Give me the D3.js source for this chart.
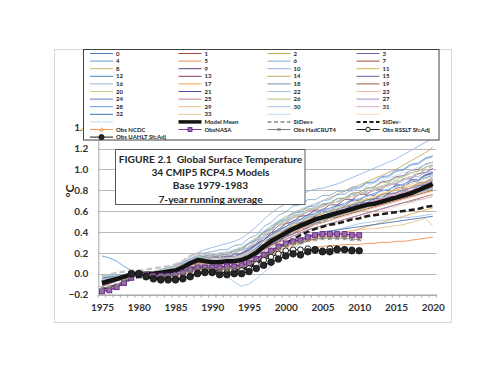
<!DOCTYPE html>
<html>
<head>
<meta charset="utf-8">
<style>
    html, body {
        margin: 0;
        padding: 0;
        background: #fff;
    }
    svg {
        display: block;
        font-family: Lato, "Open Sans", sans-serif;
    }
</style>
</head>
<body>
<svg id="chart" width="499" height="386"></svg>
<script src="https://cdn.jsdelivr.net/npm/d3@7/dist/d3.min.js"></script>
<script>
"use strict";

// categories
const years = [1975, 1976, 1977, 1978, 1979, 1980, 1981, 1982, 1983, 1984, 1985, 1986, 1987, 1988, 1989,
    1990, 1991, 1992, 1993, 1994, 1995, 1996, 1997, 1998, 1999, 2000, 2001, 2002, 2003, 2004,
    2005, 2006, 2007, 2008, 2009, 2010, 2011, 2012, 2013, 2014, 2015, 2016, 2017, 2018, 2019, 2020];
const xTicks = [1975, 1980, 1985, 1990, 1995, 2000, 2005, 2010, 2015, 2020];
const yTicks = [-0.2, 0, 0.2, 0.4, 0.6, 0.8, 1.0, 1.2, 1.4];

// model runs, hundredths of a degree, 1975..2020
const modelNames = ["0", "1", "2", "3", "4", "5", "6", "7", "8", "9", "10", "11", "12", "13", "14", "15", "16",
    "17", "18", "19", "20", "21", "22", "23", "24", "25", "26", "27", "28", "29", "30", "31", "32", "33", "", "", ""];
const modelColors = ["#4f7fbf", "#a5473a", "#b8a954", "#6f5f9f", "#5b9bd5", "#ed8a45", "#7fa7c9", "#9e5030",
    "#c9b46b", "#5a3d8a", "#8fb4e3", "#e0b040", "#4a7ebb", "#8b3a62", "#b9b060", "#7b5ea7", "#94b3d6",
    "#f0a850", "#6e8fb0", "#a0603d", "#c5c88a", "#4b4bb0", "#9dc3e6", "#f0b8a0", "#5f7fbf", "#c08081",
    "#a9c47f", "#a28cc8", "#6495ed", "#e6c08a", "#a8c0e0", "#d9a8c0", "#3c6eb4", "#e0cc95",
    "#bdd7ee", "#fbd5bd", "#c5d9f1"];
const modelValues = [
    [-8, -6, -5, -3, -1, 0, 1, 0, 1, 2, 4, 6, 9, 11, 12, 12, 14, 11, 13, 16, 18, 25, 28, 35, 37, 43, 44, 49, 50, 54, 55, 59, 58, 64, 64, 68, 68, 72, 72, 77, 77, 81, 82, 87, 88, 92],
    [-12, -10, -7, -5, -2, 0, 0, -1, -1, 1, 3, 5, 8, 10, 10, 9, 8, 7, 8, 10, 14, 19, 23, 27, 31, 35, 38, 41, 44, 47, 49, 51, 54, 56, 58, 60, 62, 64, 66, 68, 70, 72, 74, 76, 78, 80],
    [-5, -4, -3, -2, -1, 0, 1, 2, 3, 5, 7, 10, 14, 17, 18, 18, 19, 20, 22, 25, 29, 34, 40, 45, 50, 54, 58, 61, 64, 67, 70, 73, 76, 79, 82, 85, 88, 91, 94, 97, 100, 104, 108, 112, 116, 121],
    [-10, -9, -7, -4, -2, 0, -1, -2, -2, -1, 1, 3, 6, 8, 7, 6, 5, 7, 6, 10, 11, 18, 21, 28, 30, 36, 38, 43, 44, 49, 49, 54, 54, 59, 59, 64, 64, 69, 69, 74, 74, 79, 79, 84, 85, 89],
    [17, 15, 12, 7, 3, 0, -1, -2, -1, 0, 2, 4, 6, 9, 10, 12, 14, 15, 16, 19, 23, 28, 32, 37, 41, 45, 49, 52, 55, 58, 60, 63, 65, 67, 70, 72, 74, 77, 79, 81, 84, 86, 88, 90, 92, 94],
    [-6, -5, -4, -2, -1, 0, 0, 0, -1, 0, 1, 3, 5, 6, 6, 5, 4, 4, 5, 6, 8, 11, 14, 17, 19, 21, 22, 23, 24, 25, 26, 27, 27, 28, 28, 28, 29, 29, 30, 30, 31, 31, 32, 33, 34, 35],
    [-3, -2, -2, -1, 0, 0, 1, 2, 4, 6, 8, 11, 14, 18, 20, 21, 23, 23, 27, 28, 34, 37, 45, 49, 56, 59, 65, 66, 71, 71, 75, 75, 79, 79, 83, 83, 87, 87, 92, 93, 98, 99, 104, 105, 110, 112],
    [-9, -8, -6, -4, -2, 0, 0, 0, 1, 2, 3, 5, 7, 9, 10, 10, 10, 11, 12, 14, 17, 21, 25, 29, 33, 37, 41, 44, 47, 50, 52, 54, 57, 59, 61, 64, 66, 68, 70, 72, 73, 75, 77, 79, 81, 83],
    [-7, -6, -5, -3, -1, 0, 0, 1, 1, 2, 3, 4, 7, 9, 10, 11, 12, 13, 14, 16, 19, 23, 27, 31, 35, 39, 42, 45, 48, 51, 53, 55, 57, 59, 61, 63, 65, 67, 69, 71, 73, 75, 77, 79, 82, 85],
    [-11, -9, -7, -4, -2, 0, 0, 1, 2, 3, 5, 8, 11, 13, 13, 12, 11, 9, 12, 12, 17, 20, 28, 31, 37, 39, 45, 46, 51, 52, 56, 57, 61, 61, 66, 66, 71, 71, 76, 77, 82, 83, 88, 89, 94, 96],
    [-4, -3, -2, -1, 0, 0, 1, 2, 3, 5, 8, 12, 16, 20, 23, 25, 27, 29, 31, 34, 39, 45, 52, 58, 63, 67, 71, 75, 79, 81, 82, 84, 86, 89, 92, 95, 98, 101, 104, 107, 110, 114, 118, 122, 126, 130],
    [-8, -7, -5, -3, -1, 0, 1, 1, 2, 3, 4, 6, 9, 12, 13, 13, 13, 14, 15, 17, 20, 24, 29, 34, 38, 42, 46, 49, 52, 55, 57, 60, 62, 64, 67, 69, 71, 73, 76, 78, 80, 82, 84, 86, 88, 90],
    [-6, -5, -3, -2, -1, 0, 0, -1, -1, 0, 2, 4, 6, 8, 9, 9, 9, 9, 10, 12, 15, 19, 24, 28, 32, 36, 40, 43, 46, 48, 51, 53, 56, 58, 60, 62, 64, 66, 68, 70, 72, 74, 76, 78, 80, 82],
    [-9, -7, -6, -4, -2, 0, 1, 2, 3, 5, 7, 10, 13, 16, 17, 17, 15, 17, 16, 20, 22, 29, 32, 39, 42, 48, 50, 55, 56, 61, 61, 66, 66, 71, 71, 76, 76, 81, 81, 86, 86, 91, 91, 96, 97, 101],
    [-5, -4, -3, -2, -1, 0, 0, 0, 1, 2, 3, 5, 8, 10, 11, 11, 11, 11, 12, 14, 17, 21, 25, 29, 33, 37, 40, 43, 46, 49, 51, 53, 55, 57, 59, 61, 63, 65, 67, 69, 71, 73, 75, 77, 79, 81],
    [-7, -6, -4, -3, -1, 0, 1, 1, 2, 4, 6, 9, 12, 15, 16, 16, 18, 16, 19, 19, 25, 28, 36, 39, 46, 48, 54, 55, 60, 61, 66, 67, 72, 72, 77, 78, 82, 83, 88, 89, 93, 94, 99, 100, 105, 107],
    [-2, -2, -1, -1, 0, 0, 1, 2, 3, 4, 6, 8, 11, 14, 16, 17, 19, 18, 22, 23, 29, 32, 39, 42, 48, 50, 56, 57, 62, 63, 67, 68, 72, 72, 76, 76, 80, 80, 84, 84, 89, 89, 93, 93, 97, 98],
    [-10, -8, -6, -4, -2, 0, -1, -2, -3, -3, -2, 0, 2, 4, 4, 3, 2, 1, 2, 4, 7, 11, 15, 19, 22, 25, 27, 29, 31, 33, 35, 36, 38, 40, 41, 43, 45, 47, 49, 51, 53, 55, 57, 59, 61, 63],
    [-4, -3, -2, -1, 0, 0, 0, 1, 2, 3, 5, 7, 10, 13, 14, 14, 14, 15, 16, 18, 22, 27, 32, 37, 41, 45, 48, 51, 54, 56, 58, 60, 62, 64, 66, 68, 70, 72, 74, 76, 78, 80, 82, 84, 86, 88],
    [-8, -6, -5, -3, -1, 0, 0, 0, 0, 1, 2, 4, 6, 8, 9, 9, 9, 9, 10, 12, 15, 19, 23, 27, 30, 33, 36, 39, 42, 44, 46, 48, 50, 52, 54, 56, 58, 60, 62, 64, 66, 68, 70, 72, 74, 76],
    [-6, -5, -4, -2, -1, 0, 1, 2, 3, 5, 7, 9, 12, 15, 16, 17, 17, 18, 20, 22, 26, 31, 36, 41, 45, 49, 53, 56, 59, 62, 64, 67, 69, 72, 74, 77, 79, 82, 84, 87, 90, 93, 96, 99, 102, 105],
    [-9, -8, -6, -4, -2, 0, 0, 0, 1, 2, 4, 6, 9, 11, 12, 12, 13, 12, 15, 15, 21, 24, 31, 34, 40, 42, 48, 49, 54, 55, 60, 60, 65, 65, 70, 70, 75, 75, 80, 80, 85, 85, 90, 90, 95, 97],
    [-3, -3, -2, -1, 0, 0, 0, -1, -1, 0, 1, 2, 4, 5, 5, 4, 2, -3, -8, -12, -10, -5, 1, 7, 13, 19, 24, 28, 32, 35, 38, 40, 42, 44, 46, 48, 49, 50, 51, 52, 53, 54, 54, 55, 56, 57],
    [-7, -6, -4, -3, -1, 0, 1, 1, 2, 3, 5, 7, 10, 12, 13, 13, 13, 13, 14, 16, 19, 23, 27, 31, 34, 37, 40, 43, 45, 47, 49, 51, 53, 55, 57, 59, 61, 63, 65, 67, 69, 71, 73, 75, 77, 79],
    [-5, -4, -3, -2, -1, 0, 0, 1, 2, 3, 5, 8, 11, 14, 15, 15, 17, 15, 18, 18, 24, 27, 34, 37, 43, 45, 51, 52, 57, 57, 62, 62, 66, 67, 71, 71, 75, 76, 80, 80, 85, 85, 90, 90, 95, 96],
    [-8, -7, -5, -3, -1, 0, 0, 0, 1, 2, 3, 5, 8, 10, 11, 11, 10, 10, 11, 13, 16, 20, 25, 29, 33, 37, 41, 44, 47, 50, 53, 55, 58, 60, 63, 65, 67, 70, 72, 75, 77, 80, 82, 85, 87, 90],
    [-4, -3, -2, -1, 0, 0, 1, 2, 3, 4, 6, 9, 12, 15, 17, 18, 20, 19, 23, 24, 30, 33, 40, 43, 49, 51, 56, 57, 62, 63, 67, 68, 72, 73, 77, 78, 82, 83, 87, 88, 92, 93, 97, 98, 102, 104],
    [-6, -5, -4, -2, -1, 0, 0, 0, 0, 1, 2, 4, 6, 8, 8, 8, 7, 7, 8, 10, 13, 17, 21, 25, 29, 33, 36, 39, 42, 44, 46, 48, 50, 52, 54, 56, 58, 60, 62, 64, 66, 68, 69, 71, 72, 74],
    [-7, -6, -4, -3, -1, 0, 1, 1, 2, 4, 6, 9, 13, 16, 17, 18, 19, 18, 22, 23, 29, 32, 40, 43, 50, 52, 58, 59, 64, 65, 70, 71, 76, 76, 81, 82, 87, 88, 93, 94, 99, 100, 105, 106, 111, 113],
    [-8, -7, -5, -3, -2, 0, 0, 0, 0, 1, 2, 3, 5, 7, 8, 7, 7, 7, 8, 9, 12, 15, 19, 22, 25, 28, 30, 32, 34, 36, 37, 38, 39, 40, 41, 42, 43, 43, 44, 45, 46, 47, 49, 51, 53, 46],
    [-5, -4, -3, -2, -1, 0, 1, 1, 2, 3, 4, 6, 9, 11, 12, 13, 14, 14, 15, 17, 20, 24, 28, 32, 36, 40, 43, 46, 48, 50, 52, 54, 56, 58, 60, 62, 64, 66, 68, 70, 72, 74, 76, 78, 80, 82],
    [-6, -5, -4, -2, -1, 0, 0, 1, 1, 2, 4, 6, 9, 11, 12, 12, 12, 12, 13, 15, 18, 23, 28, 32, 36, 40, 44, 47, 50, 53, 55, 57, 60, 62, 64, 66, 68, 70, 72, 74, 76, 78, 80, 82, 84, 86],
    [-4, -3, -2, -1, 0, 0, 0, 0, 0, 1, 2, 3, 5, 7, 8, 8, 7, 6, 6, 8, 11, 15, 19, 23, 26, 29, 32, 34, 36, 38, 40, 41, 42, 43, 44, 45, 46, 47, 48, 49, 50, 51, 52, 53, 54, 55],
    [-7, -6, -4, -3, -1, 0, 1, 2, 3, 4, 6, 8, 11, 13, 14, 14, 15, 15, 16, 18, 21, 26, 31, 35, 39, 43, 47, 50, 53, 56, 58, 60, 63, 65, 67, 70, 72, 74, 77, 79, 81, 84, 86, 88, 91, 93],
    [-6, -5, -3, -2, -1, 0, 0, 1, 2, 3, 5, 7, 10, 12, 13, 13, 14, 14, 15, 17, 21, 26, 31, 36, 40, 44, 48, 51, 54, 57, 60, 62, 64, 67, 69, 72, 74, 76, 79, 81, 83, 86, 88, 90, 93, 95],
    [-9, -7, -5, -4, -2, 0, 0, 0, 1, 2, 3, 5, 7, 9, 9, 9, 9, 8, 9, 11, 14, 18, 22, 26, 29, 32, 35, 37, 40, 42, 44, 46, 48, 50, 52, 54, 56, 58, 60, 62, 64, 66, 68, 70, 72, 74],
    [-3, -2, -2, -1, 0, 0, 1, 2, 3, 5, 7, 10, 13, 16, 18, 19, 20, 21, 23, 26, 30, 35, 41, 46, 51, 55, 59, 62, 65, 67, 70, 72, 75, 77, 79, 82, 84, 87, 89, 92, 94, 97, 99, 102, 104, 107]
];

// ensemble statistics, hundredths
const meanVals = [-9, -7, -5, -3, -1, 0, 0, 0, 1, 2, 3, 6, 10, 13, 12, 11, 11, 12, 12, 13, 16, 20, 26, 31, 35,
    39, 43, 46, 49, 52, 54, 56, 58, 60, 62, 64, 66, 67, 69, 71, 73, 75, 77, 80, 83, 86];
const sdPlus = [-3, -1, 1, 2, 3, 3, 4, 5, 6, 7, 9, 12, 17, 20, 19, 18, 19, 20, 21, 22, 26, 30, 37, 42, 46,
    50, 54, 57, 60, 63, 65, 67, 69, 72, 74, 76, 78, 80, 82, 85, 87, 90, 93, 96, 100, 104];
const sdMinus = [-15, -13, -11, -8, -5, -3, -4, -4, -4, -3, -2, 0, 3, 6, 5, 4, 3, 3, 3, 4, 6, 10, 15, 20, 25,
    29, 33, 37, 40, 43, 45, 47, 48, 50, 52, 53, 55, 56, 57, 58, 59, 60, 61, 62, 64, 65];

// observations, hundredths, starting year in obsStart
const obsNCDC = [-16, -15, -12, -8, -4, 0, -1, -2, -3, -3, -2, 0, 3, 5, 5, 5, 5, 5, 6, 7, 9, 13, 17, 21, 25,
    28, 30, 31, 33, 35, 36, 36, 36, 36, 36, 35];
const obsNASA = [-17, -16, -13, -9, -4, 0, -1, -2, -2, -2, -1, 1, 4, 6, 6, 6, 6, 7, 7, 8, 10, 14, 18, 22, 26,
    29, 31, 32, 35, 37, 38, 38, 38, 38, 37, 37];
const obsHad = [-14, -13, -11, -7, -3, 0, -1, -2, -2, -2, -1, 1, 3, 5, 5, 4, 4, 5, 5, 6, 8, 12, 16, 20, 24,
    27, 29, 30, 32, 33, 34, 34, 34, 34, 33, 33];
const obsRSS = [-1, 0, -2, -4, -5, -5, -5, -4, -2, 1, 2, 2, 1, 1, 2, 3, 5, 9, 13, 16, 19,
    22, 23, 23, 24, 22, 22, 24, 24, 23, 23];
const obsUAH = [0, 0, -3, -5, -6, -6, -6, -5, -3, 0, 1, 1, -1, -1, 0, 0, 2, 5, 8, 11, 14,
    17, 19, 18, 21, 23, 21, 21, 23, 23, 22, 22];
const obsStart = {ncdc: 1975, nasa: 1975, had: 1975, rss: 1979, uah: 1979};

const titleLines = ["FIGURE 2.1  Global Surface Temperature", "34 CMIP5 RCP4.5 Models",
    "Base 1979-1983", "7-year running average"];

const svg = d3.select("#chart");
const x = d3.scaleLinear().domain([1974.5, 2020.5]).range([98.3, 436.4]);
const y = d3.scaleLinear().domain([-0.2, 1.4]).range([294.5, 127.7]);

function toPoints(vals, start) {
    return vals.map(function (v, i) {
        return {year: start + i, v: v / 100};
    });
}

const line = d3.line()
    .x(function (d) { return x(d.year); })
    .y(function (d) { return y(d.v); });

// outer chart frame
svg.append("rect")
    .attr("x", 54.5).attr("y", 49.5)
    .attr("width", 397).attr("height", 273)
    .attr("fill", "none").attr("stroke", "#d6d6d6");

// gridlines
svg.append("g").selectAll("line")
    .data(yTicks)
    .enter().append("line")
    .attr("x1", x(1974.5)).attr("x2", x(2020.5))
    .attr("y1", function (d) { return Math.round(y(d)) + 0.5; })
    .attr("y2", function (d) { return Math.round(y(d)) + 0.5; })
    .attr("stroke", "#b8b8b8").attr("stroke-width", 1);

// y axis
const yAxis = svg.append("g")
    .attr("transform", "translate(" + x(1974.5) + ",0)")
    .call(d3.axisLeft(y).tickValues(yTicks).tickSize(0).tickPadding(10).tickFormat(d3.format(".1f")));
yAxis.select(".domain").attr("stroke", "#a6a6a6");
yAxis.selectAll("text")
    .attr("font-size", 10).attr("font-weight", "bold").attr("fill", "#333")
    .attr("font-family", "Lato, sans-serif");

// x axis
const xAxis = svg.append("g")
    .attr("transform", "translate(0," + y(-0.2) + ")")
    .call(d3.axisBottom(x).tickValues(xTicks).tickSize(0).tickPadding(9).tickFormat(d3.format("d")));
xAxis.select(".domain").attr("stroke", "#a6a6a6");
xAxis.selectAll("text")
    .attr("font-size", 10).attr("font-weight", "bold").attr("fill", "#333")
    .attr("font-family", "Lato, sans-serif");

// minor year ticks
svg.append("g").selectAll("line")
    .data(years.concat([1974]))
    .enter().append("line")
    .attr("x1", function (d) { return x(d + 0.5); })
    .attr("x2", function (d) { return x(d + 0.5); })
    .attr("y1", y(-0.2)).attr("y2", y(-0.2) + 3)
    .attr("stroke", "#a6a6a6");

// model runs
svg.append("g").selectAll("path")
    .data(modelValues)
    .enter().append("path")
    .attr("d", function (d) { return line(toPoints(d, 1975)); })
    .attr("fill", "none")
    .attr("stroke", function (d, i) { return modelColors[i]; })
    .attr("stroke-opacity", 0.85)
    .attr("stroke-width", 1);

// stdev and mean
svg.append("path")
    .attr("d", line(toPoints(sdPlus, 1975)))
    .attr("fill", "none").attr("stroke", "#c4c4c4")
    .attr("stroke-width", 2.2).attr("stroke-dasharray", "6,3");
svg.append("path")
    .attr("d", line(toPoints(sdMinus, 1975)))
    .attr("fill", "none").attr("stroke", "#1a1a1a")
    .attr("stroke-width", 2.5).attr("stroke-dasharray", "6,3");
svg.append("path")
    .attr("d", line(toPoints(meanVals, 1975)))
    .attr("fill", "none").attr("stroke", "#141414")
    .attr("stroke-width", 4.5).attr("stroke-linejoin", "round");

// observation series
const obsSeries = [
    {name: "Obs NCDC", vals: obsNCDC, start: obsStart.ncdc, color: "#f09a55", marker: "triangle"},
    {name: "ObsNASA", vals: obsNASA, start: obsStart.nasa, color: "#7a3a90", marker: "square"},
    {name: "Obs HadCRUT4", vals: obsHad, start: obsStart.had, color: "#7f7f7f", marker: "cross"},
    {name: "Obs RSSLT SfcAdj", vals: obsRSS, start: obsStart.rss, color: "#1a1a1a", marker: "open"},
    {name: "Obs UAHLT SfcAdj", vals: obsUAH, start: obsStart.uah, color: "#1a1a1a", marker: "dot"}
];

function drawMarker(g, type, cx, cy, color, scale) {
    const s = scale || 1;
    if (type === "square") {
        g.append("rect")
            .attr("x", cx - 2.4 * s).attr("y", cy - 2.4 * s)
            .attr("width", 4.8 * s).attr("height", 4.8 * s)
            .attr("fill", "#9c6bb5").attr("stroke", "#6a2d85").attr("stroke-width", 1);
    } else if (type === "dot") {
        g.append("circle").attr("cx", cx).attr("cy", cy).attr("r", 3.3 * s)
            .attr("fill", "#262626").attr("stroke", "#111").attr("stroke-width", 0.8);
    } else if (type === "open") {
        g.append("circle").attr("cx", cx).attr("cy", cy).attr("r", 2.8 * s)
            .attr("fill", "#fff").attr("stroke", "#1a1a1a").attr("stroke-width", 1);
    } else if (type === "triangle") {
        const r = 2.4 * s;
        g.append("path")
            .attr("d", "M" + cx + "," + (cy - r) + "L" + (cx + r) + "," + (cy + r * 0.8) + "L" + (cx - r) + "," + (cy + r * 0.8) + "Z")
            .attr("fill", "#fbd3b0").attr("stroke", color).attr("stroke-width", 0.8);
    } else if (type === "cross") {
        const r = 2 * s;
        g.append("path")
            .attr("d", "M" + (cx - r) + "," + (cy - r) + "L" + (cx + r) + "," + (cy + r) +
                "M" + (cx - r) + "," + (cy + r) + "L" + (cx + r) + "," + (cy - r) +
                "M" + cx + "," + (cy - r) + "L" + cx + "," + (cy + r))
            .attr("fill", "none").attr("stroke", color).attr("stroke-width", 0.9);
    }
}

obsSeries.forEach(function (s) {
    const pts = toPoints(s.vals, s.start);
    const g = svg.append("g");
    g.append("path")
        .attr("d", line(pts))
        .attr("fill", "none").attr("stroke", s.color)
        .attr("stroke-width", s.marker === "square" ? 1.5 : 1);
    pts.forEach(function (p) {
        drawMarker(g, s.marker, x(p.year), y(p.v), s.color);
    });
});

// title box
const tb = svg.append("g");
tb.append("rect")
    .attr("x", 115.5).attr("y", 149.5)
    .attr("width", 189.5).attr("height", 55)
    .attr("fill", "#fff").attr("stroke", "#595959").attr("stroke-width", 1);
tb.selectAll("text")
    .data(titleLines)
    .enter().append("text")
    .attr("x", 210.5)
    .attr("y", function (d, i) { return 163 + i * 13.2; })
    .attr("text-anchor", "middle")
    .style("white-space", "pre")
    .attr("font-size", 10.2).attr("font-weight", "bold").attr("fill", "#262626")
    .text(function (d) { return d; });

// y axis title
svg.append("text")
    .attr("transform", "translate(74,191) rotate(-90)")
    .attr("text-anchor", "middle")
    .attr("font-size", 12).attr("font-weight", "bold").attr("fill", "#262626")
    .text("°C");

// legend
const legendItems = modelNames.map(function (n, i) {
    return {name: n, color: modelColors[i], width: 1, dash: null, marker: null};
}).concat([
    {name: "Model Mean", color: "#141414", width: 3.5, dash: null, marker: null},
    {name: "StDev+", color: "#a6a6a6", width: 2, dash: "4,2.5", marker: null},
    {name: "StDev-", color: "#1a1a1a", width: 2, dash: "4,2.5", marker: null}
]).concat(obsSeries.map(function (s) {
    return {name: s.name, color: s.color, width: 1, dash: null, marker: s.marker};
}));

const legend = svg.append("g");
legend.append("rect")
    .attr("x", 83.5).attr("y", 49.5)
    .attr("width", 355.5).attr("height", 90.5)
    .attr("fill", "#fff").attr("stroke", "#404040").attr("stroke-width", 1);

const colX = [90, 178.5, 267.5, 356.5];
legendItems.forEach(function (d, i) {
    const cx = colX[i % 4];
    const cy = 53.5 + Math.floor(i / 4) * 7.6;
    const g = legend.append("g");
    g.append("line")
        .attr("x1", cx).attr("x2", cx + 23)
        .attr("y1", cy).attr("y2", cy)
        .attr("stroke", d.color).attr("stroke-width", d.width)
        .attr("stroke-dasharray", d.dash);
    if (d.marker) {
        drawMarker(g, d.marker, cx + 11.5, cy, d.color, 0.8);
    }
    if (d.name) {
        g.append("text")
            .attr("x", cx + 26).attr("y", cy + 2)
            .attr("font-size", 6).attr("font-weight", "bold").attr("fill", "#262626")
            .text(d.name);
    }
});
</script>
</body>
</html>
